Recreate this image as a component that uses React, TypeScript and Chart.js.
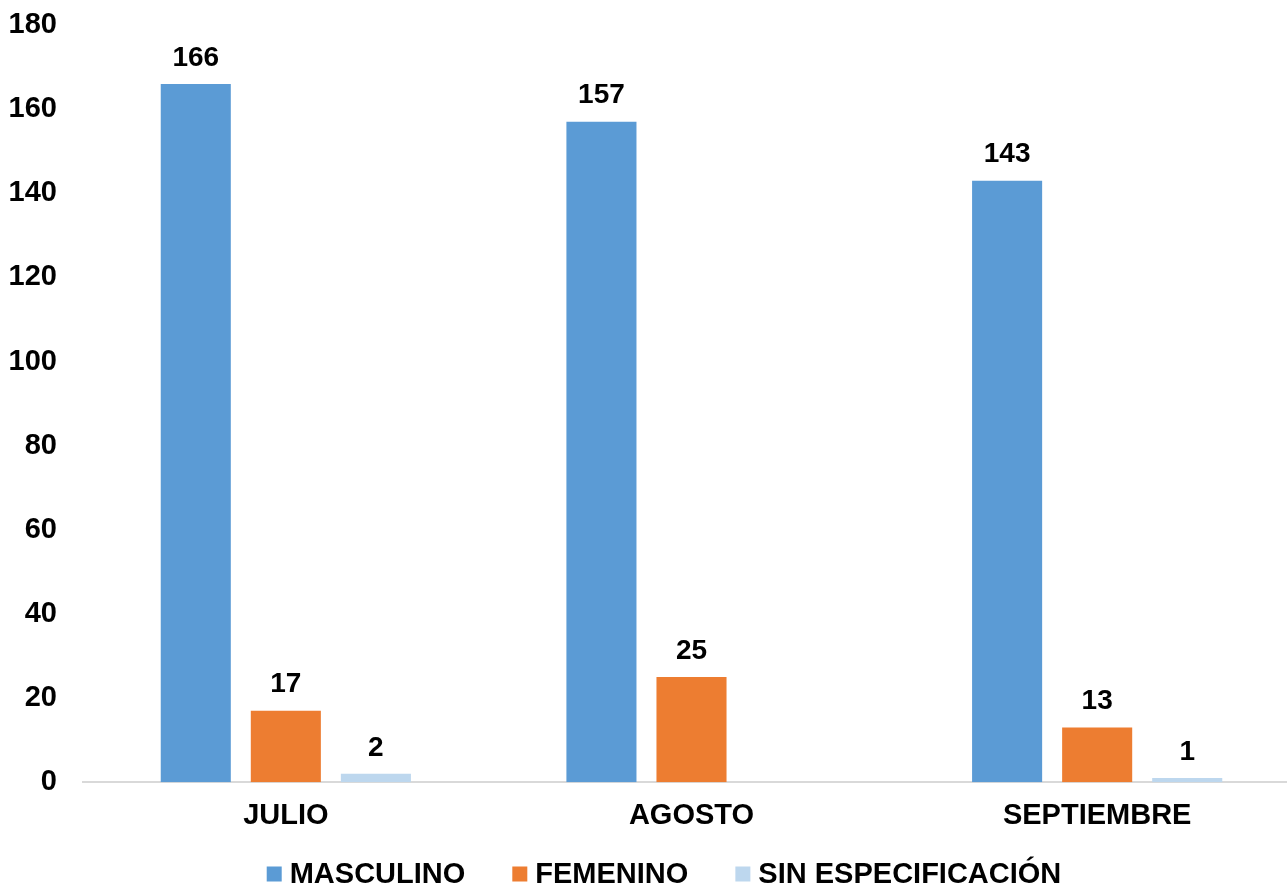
import React, { useEffect, useRef } from "react";
import { Chart, registerables } from "chart.js";

Chart.register(...registerables);

const categories = ["JULIO", "AGOSTO", "SEPTIEMBRE"];
const seriesNames = ["MASCULINO", "FEMENINO", "SIN ESPECIFICACIÓN"];
const masculino = [166, 157, 143];
const femenino = [17, 25, 13];
const sinEspecificacion: (number | null)[] = [2, null, 1];
const seriesColors = ["#5B9BD5", "#ED7D31", "#BDD7EE"];
const yTicks = [0, 20, 40, 60, 80, 100, 120, 140, 160, 180];

const FONT = '"Liberation Sans", Arial, sans-serif';

const valueLabels = {
  id: "valueLabels",
  afterDatasetsDraw(chart: any) {
    const ctx = chart.ctx;
    ctx.save();
    ctx.font = `bold 28px ${FONT}`;
    ctx.fillStyle = "#000";
    ctx.textAlign = "center";
    ctx.textBaseline = "middle";
    chart.data.datasets.forEach((ds: any, i: number) => {
      const meta = chart.getDatasetMeta(i);
      meta.data.forEach((bar: any, j: number) => {
        const v = ds.data[j];
        if (v === null || v === undefined) return;
        ctx.fillText(String(v), bar.x, bar.y - 26);
      });
    });
    ctx.restore();
  },
};

const customLegend = {
  id: "customLegend",
  afterDraw(chart: any) {
    const ctx = chart.ctx;
    ctx.save();
    ctx.font = `bold 29px ${FONT}`;
    ctx.textBaseline = "middle";
    ctx.textAlign = "left";
    const box = 15;
    const gap = 8;
    const itemGap = 47;
    const widths = chart.data.datasets.map((ds: any) => box + gap + ctx.measureText(ds.label).width);
    const total = widths.reduce((a: number, b: number) => a + b, 0) + itemGap * (widths.length - 1);
    let x = 664 - total / 2;
    const cy = 874;
    chart.data.datasets.forEach((ds: any, i: number) => {
      ctx.fillStyle = ds.backgroundColor;
      ctx.fillRect(x, cy - box / 2, box, box);
      ctx.fillStyle = "#000";
      ctx.fillText(ds.label, x + box + gap, cy + 1);
      x += widths[i] + itemGap;
    });
    ctx.restore();
  },
};

export default function App() {
  const ref = useRef<HTMLCanvasElement>(null);
  useEffect(() => {
    if (!ref.current) return;
    const chart = new Chart(ref.current, {
      type: "bar",
      data: {
        labels: categories,
        datasets: [
          { label: seriesNames[0], data: masculino, backgroundColor: seriesColors[0] },
          { label: seriesNames[1], data: femenino, backgroundColor: seriesColors[1] },
          { label: seriesNames[2], data: sinEspecificacion, backgroundColor: seriesColors[2] },
        ],
      },
      options: {
        animation: false,
        responsive: false,
        devicePixelRatio: 1,
        layout: { padding: { top: 25, left: 0, right: 0, bottom: 38 } },
        datasets: { bar: { categoryPercentage: 0.666, barPercentage: 0.778 } },
        plugins: {
          legend: { display: false },
          tooltip: { enabled: false },
        },
        scales: {
          x: {
            grid: { display: false, drawTicks: false },
            border: { display: true, color: "#D9D9D9", width: 2 },
            ticks: {
              color: "#000",
              font: { family: FONT, size: 29, weight: "bold" },
              padding: 16,
              maxRotation: 0,
            },
          },
          y: {
            min: 0,
            max: 180,
            grid: { display: false, drawTicks: false },
            border: { display: false },
            afterFit: (scale: any) => {
              scale.width = 83;
              scale.paddingTop = 0;
              scale.paddingBottom = 0;
            },
            afterBuildTicks: (scale: any) => {
              scale.ticks = yTicks.map((v) => ({ value: v }));
            },
            ticks: {
              color: "#000",
              font: { family: FONT, size: 29, weight: "bold" },
              padding: 26,
            },
          },
        },
      },
      plugins: [valueLabels, customLegend],
    });
    return () => chart.destroy();
  }, []);
  return (
    <div style={{ position: "absolute", left: 0, top: 0, width: 1287, height: 887, overflow: "hidden", background: "#fff" }}>
      <canvas ref={ref} width={1300} height={887} style={{ width: 1300, height: 887 }} />
    </div>
  );
}
